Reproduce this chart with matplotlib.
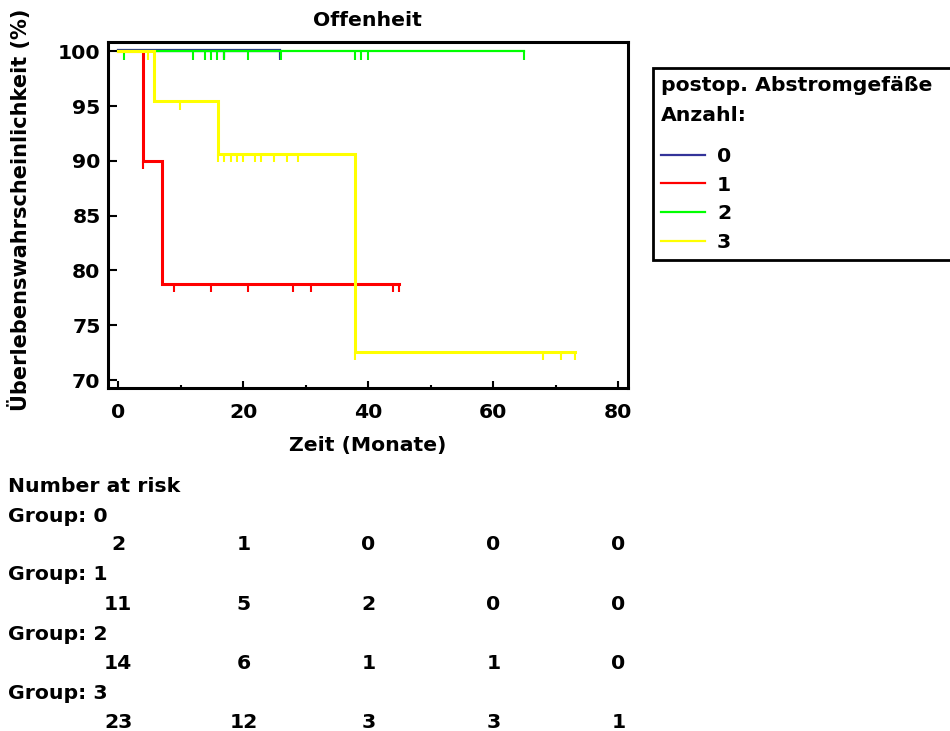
import numpy as np
import matplotlib
matplotlib.use("Agg")
import matplotlib.pyplot as plt
from matplotlib.lines import Line2D
from matplotlib.ticker import MultipleLocator
from matplotlib.transforms import blended_transform_factory
import matplotlib.patheffects as pe

# Kaplan-Meier step curves: time in months, survival in %
g0_time = [0.0, 25.9]
g0_surv = [100.0, 100.0]
g0_cens = [16.9, 25.9]

g1_time = [0.0, 3.95, 7.0, 44.9]
g1_surv = [100.0, 90.0, 78.75, 78.75]
g1_cens = [3.95, 8.9, 14.9, 20.75, 27.95, 30.8, 44.0, 44.9]

g2_time = [0.0, 64.9]
g2_surv = [100.0, 100.0]
g2_cens = [0.9, 11.95, 13.8, 14.9, 15.8, 16.9, 20.8, 26.0, 37.9, 38.9, 39.9, 64.9]

g3_time = [0.0, 5.76, 15.95, 37.9, 73.0]
g3_surv = [100.0, 95.45, 90.68, 72.55, 72.55]
g3_cens = [4.8, 9.9, 15.95, 16.9, 17.95, 19.0, 20.0, 21.9, 22.9, 24.9, 27.0, 28.8,
           37.9, 68.0, 70.9, 73.0]

group_names = ["0", "1", "2", "3"]
group_colors = ["#333399", "#ff0000", "#00ff00", "#ffff00"]

# number at risk at the x tick positions
risk_times = [0, 20, 40, 60, 80]
risk_g0 = [2, 1, 0, 0, 0]
risk_g1 = [11, 5, 2, 0, 0]
risk_g2 = [14, 6, 1, 1, 0]
risk_g3 = [23, 12, 3, 3, 1]

FS = 14.7
plt.rcParams["font.family"] = ["DejaVu Sans"]
plt.rcParams["font.weight"] = "bold"

W, H = 950, 731
fig = plt.figure(figsize=(W / 100, H / 100), dpi=100)
ax = fig.add_axes([107.5 / W, 1 - 388 / H, 520 / W, 346.5 / H])

curves = [
    (g0_time, g0_surv, g0_cens, 1.6, 1),
    (g1_time, g1_surv, g1_cens, 2.2, 3),
    (g2_time, g2_surv, g2_cens, 1.6, 2),
    (g3_time, g3_surv, g3_cens, 2.2, 4),
]
tick_len = 0.75
for (t, s, c, lw, z), col in zip(curves, group_colors):
    effects = None
    if z == 1:
        effects = [pe.Stroke(offset=(0, 1.2)), pe.Normal()]
    ax.step(t, s, where="post", color=col, lw=lw, zorder=z,
            solid_joinstyle="miter", path_effects=effects)
    idx = np.searchsorted(t, c, side="right") - 1
    yc = np.asarray(s)[idx]
    ax.vlines(c, yc - tick_len, yc, color=col, lw=1.5, zorder=z,
              path_effects=effects)

ax.set_xlim(-1.73, 81.47)
ax.set_ylim(69.27, 100.91)
ax.xaxis.set_major_locator(MultipleLocator(20))
ax.xaxis.set_minor_locator(MultipleLocator(10))
ax.yaxis.set_major_locator(MultipleLocator(5))
for sp in ax.spines.values():
    sp.set_linewidth(2.2)
ax.tick_params(axis="x", which="major", direction="in", length=5, width=1.5,
               pad=11, labelsize=FS)
ax.tick_params(axis="x", which="minor", direction="in", length=2.5, width=1.5)
ax.tick_params(axis="y", which="major", direction="in", length=6.5, width=1.5,
               pad=5, labelsize=FS)
for lab in ax.get_xticklabels() + ax.get_yticklabels():
    lab.set_fontweight("bold")

ax.set_title("Offenheit", fontsize=FS, fontweight="bold", pad=11.2)
ax.set_xlabel("Zeit (Monate)", fontsize=FS, fontweight="bold")
ax.xaxis.set_label_coords(0.5, (388 - 450.5) / 346.5)
ax.xaxis.label.set_va("baseline")
ax.set_ylabel("Überlebenswahrscheinlichkeit (%)", fontsize=FS + 0.3,
              fontweight="bold")
ax.yaxis.set_label_coords((31 - 107.5) / 520, 0.513)

# legend box runs past the right edge of the figure
handles = [Line2D([], [], color=c, lw=1.6) for c in group_colors]
leg_top = 1 - 68.3 / H
leg = ax.legend(handles, group_names, title="postop. Abstromgefäße\nAnzahl:",
                loc="upper left",
                bbox_to_anchor=(652.7 / W, leg_top - 0.4, 310 / W, 0.4),
                bbox_transform=fig.transFigure, borderaxespad=0, mode="expand",
                prop={"size": FS, "weight": "bold"},
                title_fontproperties={"size": FS, "weight": "bold"},
                alignment="left", fancybox=False, framealpha=1,
                edgecolor="black", handlelength=2.15, handletextpad=0.6,
                borderpad=0.4, labelspacing=0.48)
leg.get_frame().set_linewidth(2)
leg.get_title().set_linespacing(1.7)
leg._legend_box.sep = 15.7

# number-at-risk table
trans = blended_transform_factory(ax.transData, fig.transFigure)
def fy(px):
    return 1 - px / H

fig.text(8 / W, fy(491.5), "Number at risk", fontsize=FS, fontweight="bold",
         va="baseline", ha="left")
risk_rows = [risk_g0, risk_g1, risk_g2, risk_g3]
group_base = [522, 580.5, 639.5, 699]
num_base = [550.5, 610, 669, 727.5]
for name, row, gb, nb in zip(group_names, risk_rows, group_base, num_base):
    fig.text(8 / W, fy(gb), f"Group: {name}", fontsize=FS, fontweight="bold",
             va="baseline", ha="left")
    for tx, n in zip(risk_times, row):
        ax.text(tx, fy(nb), str(n), transform=trans, fontsize=FS,
                fontweight="bold", va="baseline", ha="center", clip_on=False)

fig.savefig("out.png", dpi=100)
